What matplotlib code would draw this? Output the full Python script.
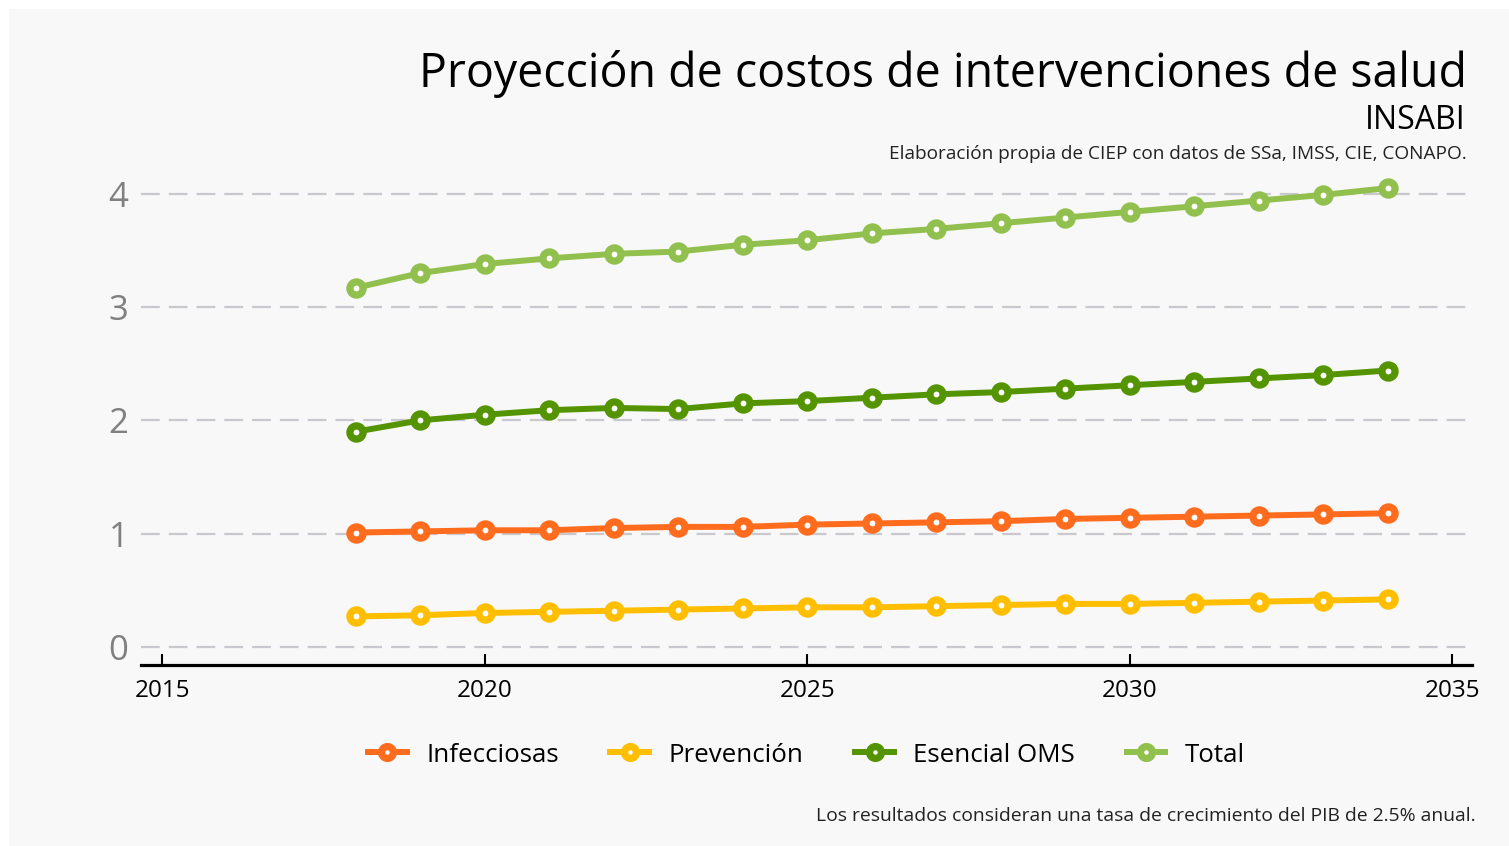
"""Proyeccion de costos de intervenciones de salud (INSABI), CIEP style line chart."""
import matplotlib
matplotlib.use("Agg")
import matplotlib.pyplot as plt
from matplotlib.patches import Rectangle

plt.rcParams['font.family'] = ['Open Sans', 'DejaVu Sans']
plt.rcParams['lines.scale_dashes'] = False

# Data (billions / % -- axis is unlabeled)
years = list(range(2018, 2035))
infecciosas = [1.01, 1.02, 1.03, 1.03, 1.05, 1.06, 1.06, 1.08, 1.09, 1.10, 1.11, 1.13, 1.14, 1.15, 1.16, 1.17, 1.18]
prevencion = [0.27, 0.28, 0.30, 0.31, 0.32, 0.33, 0.34, 0.35, 0.35, 0.36, 0.37, 0.38, 0.38, 0.39, 0.40, 0.41, 0.42]
esencial_oms = [1.90, 2.00, 2.05, 2.09, 2.11, 2.10, 2.15, 2.17, 2.20, 2.23, 2.25, 2.28, 2.31, 2.34, 2.37, 2.40, 2.44]
total = [3.17, 3.30, 3.38, 3.43, 3.47, 3.49, 3.55, 3.59, 3.65, 3.69, 3.74, 3.79, 3.84, 3.89, 3.94, 3.99, 4.05]

series_names = ["Infecciosas", "Prevención", "Esencial OMS", "Total"]
series_values = [infecciosas, prevencion, esencial_oms, total]
series_colors = ["#FF6C1E", "#FFBF00", "#549400", "#92C04E"]

x_ticks = [2015, 2020, 2025, 2030, 2035]
y_ticks = [0, 1, 2, 3, 4]

W, H = 1509, 846
fig = plt.figure(figsize=(W / 100, H / 100), dpi=100)
fig.patch.set_facecolor("white")
fig.patches.append(Rectangle((9 / W, 0), 1 - 9 / W, 1 - 9 / H, transform=fig.transFigure,
                             facecolor="#f8f8f8", edgecolor="none", zorder=-10))

ax = fig.add_axes([141 / W, 1 - 665 / H, (1472 - 141) / W, (665 - 170) / H])
ax.set_facecolor("none")

for name, vals, col in zip(series_names, series_values, series_colors):
    ax.plot(years, vals, color=col, lw=4.3, marker="o", ms=9.5, mew=5.2,
            mfc="white", mec=col, label=name, zorder=3)

ax.set_xlim(2014.67, 2035.31)
ax.set_ylim(-0.159, 4.21)
ax.set_xticks(x_ticks)
ax.set_yticks(y_ticks)

for s in ["top", "right", "left"]:
    ax.spines[s].set_visible(False)
ax.spines["bottom"].set_linewidth(2.3)
ax.spines["bottom"].set_color("black")

ax.tick_params(axis="x", direction="in", length=8, width=1.5, color="black",
               labelsize=17.5, labelcolor="black", pad=10)
ax.tick_params(axis="y", length=0, labelsize=25, labelcolor="#808080", pad=9)

ax.yaxis.grid(True, color="#c8c8ce", lw=1.6, dashes=(13.5, 6.5), zorder=1)
ax.xaxis.grid(False)

fig.text(1467 / W, 1 - 87 / H, "Proyección de costos de intervenciones de salud",
         ha="right", va="baseline", fontsize=33.5, color="black")
fig.text(1466 / W, 1 - 129 / H, "INSABI", ha="right", va="baseline", fontsize=23, color="black")
fig.text(1467 / W, 1 - 159 / H, "Elaboración propia de CIEP con datos de SSa, IMSS, CIE, CONAPO.",
         ha="right", va="baseline", fontsize=13.7, color="#222222")
fig.text(1476 / W, 1 - 821 / H, "Los resultados consideran una tasa de crecimiento del PIB de 2.5% anual.",
         ha="right", va="baseline", fontsize=13.9, color="#222222")

leg = ax.legend(loc="center", bbox_to_anchor=(0.5, 1 - (755 - 170) / (665 - 170)), ncol=4,
                frameon=False, fontsize=18.6, handlelength=1.5, handletextpad=0.75,
                columnspacing=2.0, markerscale=0.9)

fig.savefig("out.png", dpi=100, facecolor=fig.get_facecolor())
